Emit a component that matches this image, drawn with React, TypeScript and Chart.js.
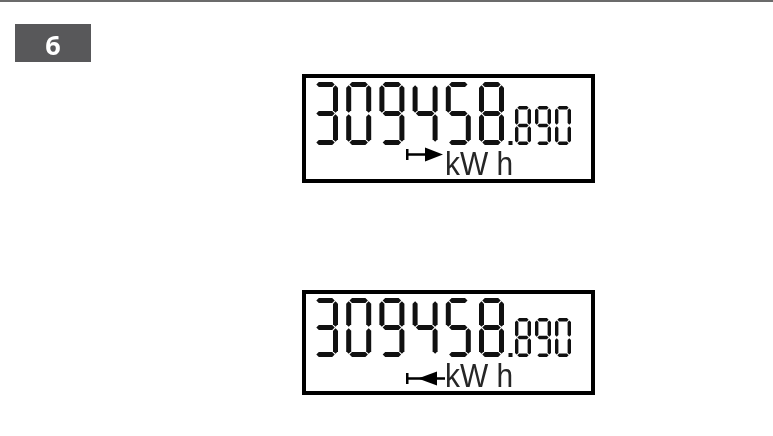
import React, { useEffect, useRef } from "react";
import { Chart, registerables } from "chart.js";

Chart.register(...registerables);

// ---- data ----
const stepLabel = "6";
const readings = ["309458.890", "309458.890"];
const flowDirections = ["import", "export"]; // import: |→ , export: |←
const unitLabels = ["kW h", "kW h"];

// ---- layout (page pixels) ----
const W = 773;
const H = 436;
const panelTops = [74, 290];
const panelBottoms = [183, 395];
const panelLeft = 302;
const panelRight = 595;

const SEGMENTS: Record<string, string> = {
  "0": "abcdef",
  "1": "bc",
  "2": "abged",
  "3": "abgcd",
  "4": "fgbc",
  "5": "afgcd",
  "6": "afgedc",
  "7": "abc",
  "8": "abcdefg",
  "9": "abcdfg",
};

function hseg(ctx: CanvasRenderingContext2D, x0: number, x1: number, yc: number, t: number, g: number) {
  const s = x0 + g;
  const e = x1 - g;
  ctx.beginPath();
  ctx.moveTo(s, yc);
  ctx.lineTo(s + t / 2, yc - t / 2);
  ctx.lineTo(e - t / 2, yc - t / 2);
  ctx.lineTo(e, yc);
  ctx.lineTo(e - t / 2, yc + t / 2);
  ctx.lineTo(s + t / 2, yc + t / 2);
  ctx.closePath();
  ctx.fill();
}

function vseg(ctx: CanvasRenderingContext2D, xc: number, y0: number, y1: number, t: number, g: number) {
  const s = y0 + g;
  const e = y1 - g;
  ctx.beginPath();
  ctx.moveTo(xc, s);
  ctx.lineTo(xc + t / 2, s + t / 2);
  ctx.lineTo(xc + t / 2, e - t / 2);
  ctx.lineTo(xc, e);
  ctx.lineTo(xc - t / 2, e - t / 2);
  ctx.lineTo(xc - t / 2, s + t / 2);
  ctx.closePath();
  ctx.fill();
}

function drawDigit(ctx: CanvasRenderingContext2D, ch: string, x: number, y: number, w: number, h: number, t: number, g: number) {
  const segs = SEGMENTS[ch] || "";
  const xl = x + t / 2;
  const xr = x + w - t / 2;
  const yt = y + t / 2;
  const ym = y + h / 2;
  const yb = y + h - t / 2;
  for (const s of segs) {
    if (s === "a") hseg(ctx, xl, xr, yt, t, g);
    if (s === "d") hseg(ctx, xl, xr, yb, t, g);
    if (s === "g") hseg(ctx, xl, xr, ym, t, g);
    if (s === "b") vseg(ctx, xr, yt, ym, t, g);
    if (s === "c") vseg(ctx, xr, ym, yb, t, g);
    if (s === "e") vseg(ctx, xl, ym, yb, t, g);
    if (s === "f") vseg(ctx, xl, yt, ym, t, g);
  }
}

const meterPlugin = {
  id: "meterPlugin",
  afterDraw(chart: any) {
    const ctx: CanvasRenderingContext2D = chart.ctx;
    const px = (v: number) => chart.scales.x.getPixelForValue(v);
    const py = (v: number) => chart.scales.y.getPixelForValue(v);
    ctx.save();

    // top rule
    ctx.fillStyle = "#6b6b6b";
    ctx.fillRect(px(0), py(0), px(W) - px(0), 2);

    // step badge
    ctx.fillStyle = "#58585a";
    ctx.fillRect(px(15), py(24), px(91) - px(15), py(62) - py(24));
    ctx.fillStyle = "#ffffff";
    ctx.font = "bold 27px 'Open Sans', 'DejaVu Sans', sans-serif";
    ctx.textAlign = "center";
    ctx.textBaseline = "alphabetic";
    ctx.fillText(stepLabel, px(53), py(55));

    readings.forEach((reading, i) => {
      const top = panelTops[i];
      const bottom = panelBottoms[i];
      // frame
      ctx.strokeStyle = "#000000";
      ctx.lineWidth = 4;
      ctx.strokeRect(px(panelLeft) + 2, py(top) + 2, px(panelRight) - px(panelLeft) - 4, py(bottom) - py(top) - 4);

      const [intPart, decPart] = reading.split(".");
      const bigTop = top + 8;
      const bigBottom = bottom - 38;
      ctx.fillStyle = "#111111";
      for (let k = 0; k < intPart.length; k++) {
        const x = 313 + k * 33.2;
        drawDigit(ctx, intPart[k], px(x), py(bigTop), 25, py(bigBottom) - py(bigTop), 5, 0.8);
      }
      // decimal point
      ctx.fillRect(px(508.5), py(bigBottom - 4), 4, 4);
      const smallTop = bigBottom - 39;
      for (let k = 0; k < (decPart || "").length; k++) {
        const x = 515 + k * 20;
        drawDigit(ctx, decPart[k], px(x), py(smallTop), 16, py(bigBottom) - py(smallTop), 3.4, 0.7);
      }

      // unit label
      const baseline = bottom - 8.5;
      ctx.save();
      ctx.translate(px(445), py(baseline));
      ctx.scale(0.88, 1);
      ctx.font = "34px 'Liberation Sans', Arial, sans-serif";
      ctx.textAlign = "left";
      ctx.textBaseline = "alphabetic";
      ctx.fillStyle = "#262626";
      ctx.fillText(unitLabels[i], 0, 0);
      ctx.restore();

      // direction arrow
      ctx.fillStyle = "#000000";
      if (flowDirections[i] === "import") {
        const ay = baseline - 20;
        ctx.fillRect(px(406), py(ay - 5.5), 2.5, 11);
        ctx.fillRect(px(406), py(ay - 1.25), 22, 2.5);
        ctx.beginPath();
        ctx.moveTo(px(425), py(ay - 7));
        ctx.lineTo(px(443), py(ay));
        ctx.lineTo(px(425), py(ay + 7));
        ctx.closePath();
        ctx.fill();
      } else {
        const ay = baseline - 8;
        ctx.fillRect(px(406), py(ay - 5.5), 2.5, 11);
        ctx.fillRect(px(406), py(ay - 1.25), 39, 2.5);
        ctx.beginPath();
        ctx.moveTo(px(418), py(ay));
        ctx.lineTo(px(437), py(ay - 7));
        ctx.lineTo(px(437), py(ay + 7));
        ctx.closePath();
        ctx.fill();
      }
    });

    ctx.restore();
  },
};

export default function App() {
  const ref = useRef<HTMLCanvasElement | null>(null);
  useEffect(() => {
    if (!ref.current) return;
    const chart = new Chart(ref.current, {
      type: "scatter",
      data: { datasets: [{ data: [], pointRadius: 0 }] },
      options: {
        animation: false,
        responsive: false,
        devicePixelRatio: 1,
        layout: { padding: 0 },
        plugins: { legend: { display: false }, tooltip: { enabled: false } },
        scales: {
          x: { type: "linear", min: 0, max: W, display: false },
          y: { type: "linear", min: 0, max: H, reverse: true, display: false },
        },
      },
      plugins: [meterPlugin],
    });
    return () => chart.destroy();
  }, []);
  return (
    <div style={{ position: "absolute", left: 0, top: 0, width: W, height: H, background: "#ffffff" }}>
      <canvas ref={ref} width={W} height={H} style={{ display: "block", width: W, height: H }} />
    </div>
  );
}
